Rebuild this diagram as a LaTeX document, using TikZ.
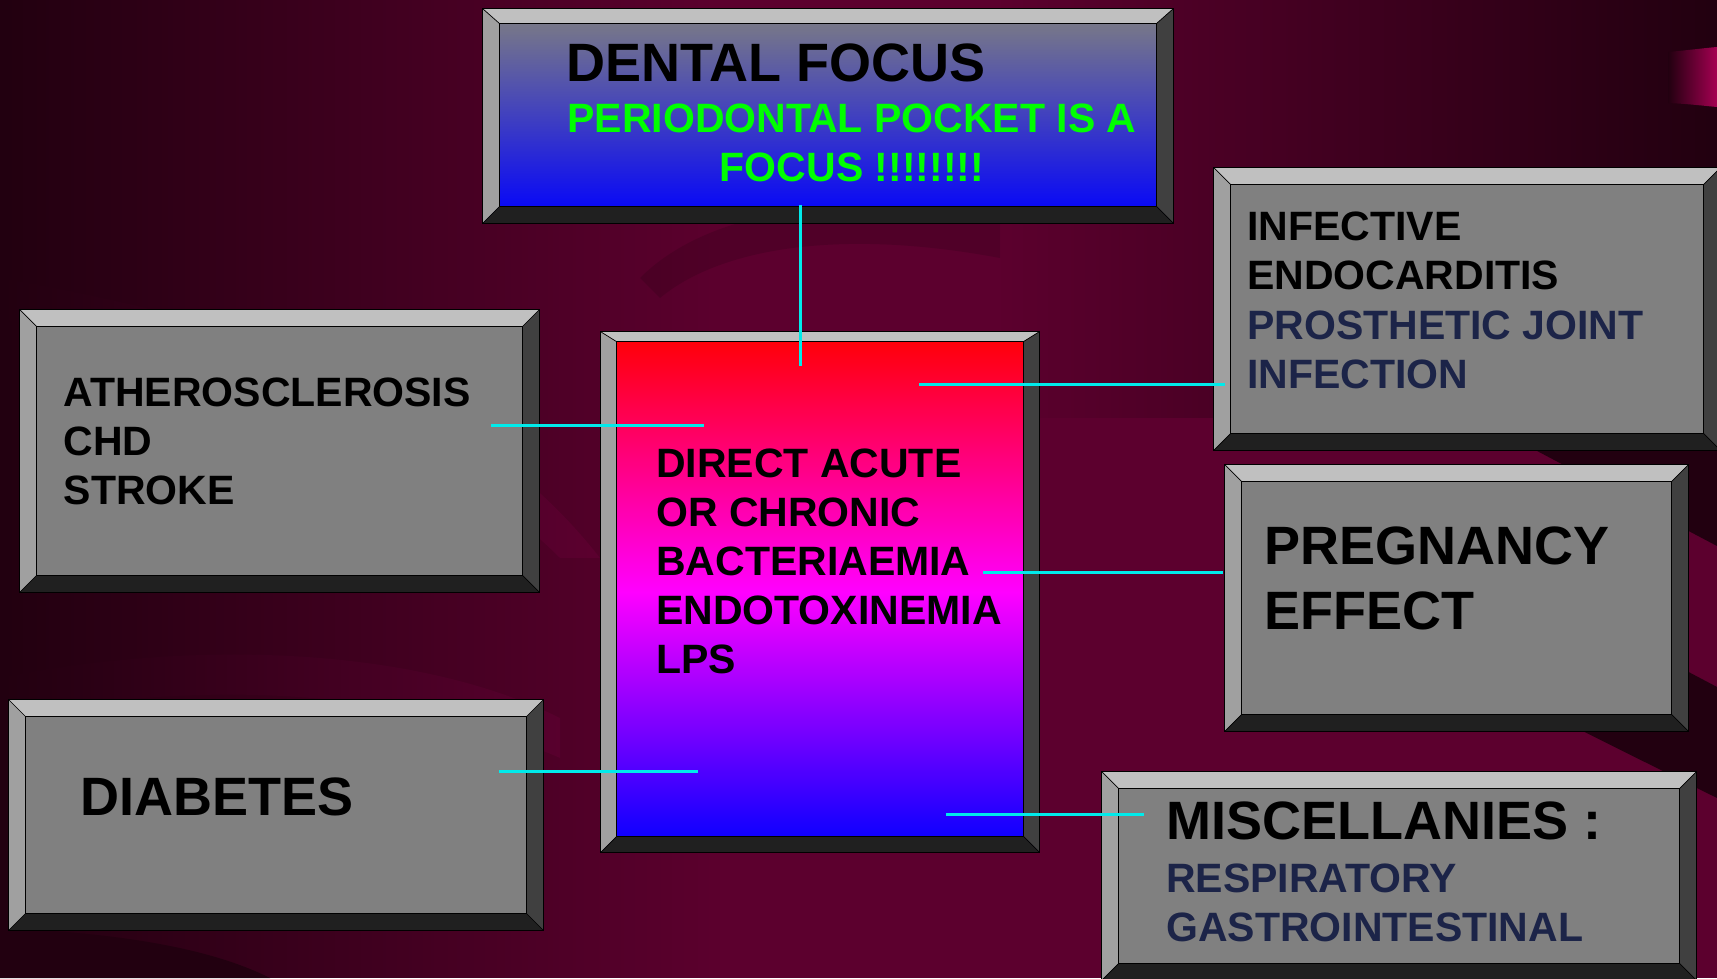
\documentclass[tikz,border=0pt]{standalone}
\usepackage{fontspec}
\setmainfont{Liberation Sans}
\usetikzlibrary{fadings}

\definecolor{maroon}{RGB}{92,0,46}
\definecolor{darkmaroon}{RGB}{34,0,16}
\definecolor{litemaroon}{RGB}{104,0,54}
\definecolor{pinktab}{RGB}{165,0,82}
\definecolor{facegray}{RGB}{128,128,128}
\definecolor{bevtop}{RGB}{192,192,192}
\definecolor{bevleft}{RGB}{160,160,160}
\definecolor{bevright}{RGB}{64,64,64}
\definecolor{bevbot}{RGB}{32,32,32}
\definecolor{navytext}{RGB}{28,36,72}
\definecolor{linkcyan}{RGB}{0,235,235}
\definecolor{focusgreen}{RGB}{0,255,0}

% bevelled frame round a panel node: name, side width, top width
\newcommand{\bevelpanel}[3]{%
  \fill[bevtop] (#1.north west) -- (#1.north east) -- ([shift={(-#2,-#3)}]#1.north east) -- ([shift={(#2,-#3)}]#1.north west) -- cycle;
  \fill[bevleft] (#1.north west) -- ([shift={(#2,-#3)}]#1.north west) -- ([shift={(#2,#2)}]#1.south west) -- (#1.south west) -- cycle;
  \fill[bevright] (#1.north east) -- ([shift={(-#2,-#3)}]#1.north east) -- ([shift={(-#2,#2)}]#1.south east) -- (#1.south east) -- cycle;
  \fill[bevbot] (#1.south west) -- ([shift={(#2,#2)}]#1.south west) -- ([shift={(-#2,#2)}]#1.south east) -- (#1.south east) -- cycle;
  \draw[line width=0.7pt] ([shift={(#2,-#3)}]#1.north west) rectangle ([shift={(-#2,#2)}]#1.south east);
  \draw[line width=0.7pt] (#1.north west) -- ([shift={(#2,-#3)}]#1.north west)
    (#1.north east) -- ([shift={(-#2,-#3)}]#1.north east)
    (#1.south west) -- ([shift={(#2,#2)}]#1.south west)
    (#1.south east) -- ([shift={(-#2,#2)}]#1.south east);
  \draw[line width=1.2pt] (#1.north west) rectangle (#1.south east);
}
\newcommand{\sz}[2]{\fontsize{#1}{#2}\selectfont}

\tikzset{
  panel/.style={rectangle, inner sep=0pt, fill=facegray},
  txt/.style={inner sep=0pt, align=left, anchor=base west, font=\bfseries},
  link/.style={draw=linkcyan, line width=3pt},
}

\begin{document}
\begin{tikzpicture}[x=1pt, y=1pt]
  \useasboundingbox (0,0) rectangle (1717,978);
  \clip (0,0) rectangle (1717,978);

  % background
  \fill[maroon] (0,0) rectangle (1717,978);
  \fill[litemaroon] (0,660) .. controls (200,610) and (420,560) .. (560,420)
    -- (600,420) .. controls (460,600) and (220,660) .. (0,700) -- cycle;
  \fill[litemaroon] (0,300) .. controls (200,340) and (420,330) .. (560,260)
    -- (560,220) .. controls (400,290) and (200,300) .. (0,260) -- cycle;
  \fill[darkmaroon, path fading=east] (0,0) rectangle (720,978);
  \fill[darkmaroon, path fading=west] (1000,560) rectangle (1717,978);
  \fill[darkmaroon] (1450,573) -- (1717,432) -- (1717,700) -- (1450,700) -- cycle;
  \fill[darkmaroon] (1450,432) -- (1717,291) -- (1717,180) -- (1450,313) -- cycle;
  \fill[darkmaroon] (0,0) -- (0,50) .. controls (120,45) and (210,30) .. (270,0) -- cycle;
  \fill[darkmaroon, opacity=0.2] (640,700) .. controls (700,760) and (820,790) .. (1000,760)
    -- (1000,720) .. controls (840,750) and (720,730) .. (660,680) -- cycle;
  \shade[left color=darkmaroon, right color=pinktab]
    (1668,926) .. controls (1690,928) and (1705,930) .. (1717,931)
    -- (1717,871) .. controls (1705,872) and (1690,874) .. (1668,875) -- cycle;

  % panels
  \node[panel, minimum width=690, minimum height=214,
    top color=facegray, bottom color=blue] (focus) at (828,862) {};
  \node[panel, minimum width=519, minimum height=282] (athero) at (279.5,527) {};
  \node[panel, minimum width=438, minimum height=520,
    top color=red, bottom color=blue, middle color=magenta] (bact) at (820,386) {};
  \node[panel, minimum width=506, minimum height=282] (infect) at (1467,669) {};
  \node[panel, minimum width=463, minimum height=266] (preg) at (1456.5,380) {};
  \node[panel, minimum width=594, minimum height=208] (misc) at (1399,102) {};
  \node[panel, minimum width=534, minimum height=230] (diab) at (276,163) {};

  \foreach \n/\s/\t in {focus/17/15, athero/17/17, bact/16/10, infect/17/17,
                        preg/17/17, misc/17/17, diab/17/17}
    \bevelpanel{\n}{\s}{\t};

  % texts (base of a block = its last line)
  \node[txt, font=\bfseries\sz{54}{64}] (focus-title) at (566,896) {DENTAL FOCUS};
  \node[txt, align=center, anchor=base, text=focusgreen, font=\bfseries\sz{41}{49}]
    (focus-sub) at (852,796) {PERIODONTAL POCKET IS A\\FOCUS !!!!!!!!};
  \node[txt, font=\bfseries\sz{41}{49}] (athero-txt) at (63.5,473)
    {ATHEROSCLEROSIS\\CHD\\STROKE};
  \node[txt, font=\bfseries\sz{41}{49}] (bact-txt) at (656,304)
    {DIRECT ACUTE\\OR CHRONIC\\BACTERIAEMIA\\ENDOTOXINEMIA\\LPS};
  \node[txt, font=\bfseries\sz{41}{49.4}] (infect-txt) at (1247,589.4)
    {INFECTIVE\\ENDOCARDITIS\\\textcolor{navytext}{PROSTHETIC JOINT}\\\textcolor{navytext}{INFECTION}};
  \node[txt, font=\bfseries\sz{54}{65}] (preg-txt) at (1264,348) {PREGNANCY\\EFFECT};
  \node[txt, font=\bfseries\sz{54}{64}] (misc-title) at (1166,138) {MISCELLANIES :};
  \node[txt, text=navytext, font=\bfseries\sz{41}{49}] (misc-txt) at (1166,37)
    {RESPIRATORY\\GASTROINTESTINAL};
  \node[txt, font=\bfseries\sz{54}{64}] (diab-txt) at (80,162) {DIABETES};

  % connector ends
  \coordinate (focus-out) at (800,773);
  \coordinate (bact-top) at (800,612);
  \coordinate (athero-out) at (491,552);
  \coordinate (bact-left) at (704,552);
  \coordinate (bact-right) at (919,593);
  \coordinate (infect-in) at (1225,593);
  \coordinate (bact-mid) at (983,405);
  \coordinate (preg-in) at (1223,405);
  \coordinate (diab-out) at (499,206);
  \coordinate (bact-low) at (698,206);
  \coordinate (bact-bot) at (946,163);
  \coordinate (misc-in) at (1144,163);

  % connectors
  \draw[link] (focus-out) -- (bact-top);
  \draw[link] (athero-out) -- (bact-left);
  \draw[link] (bact-right) -- (infect-in);
  \draw[link] (bact-mid) -- (preg-in);
  \draw[link] (diab-out) -- (bact-low);
  \draw[link] (bact-bot) -- (misc-in);
\end{tikzpicture}
\end{document}
